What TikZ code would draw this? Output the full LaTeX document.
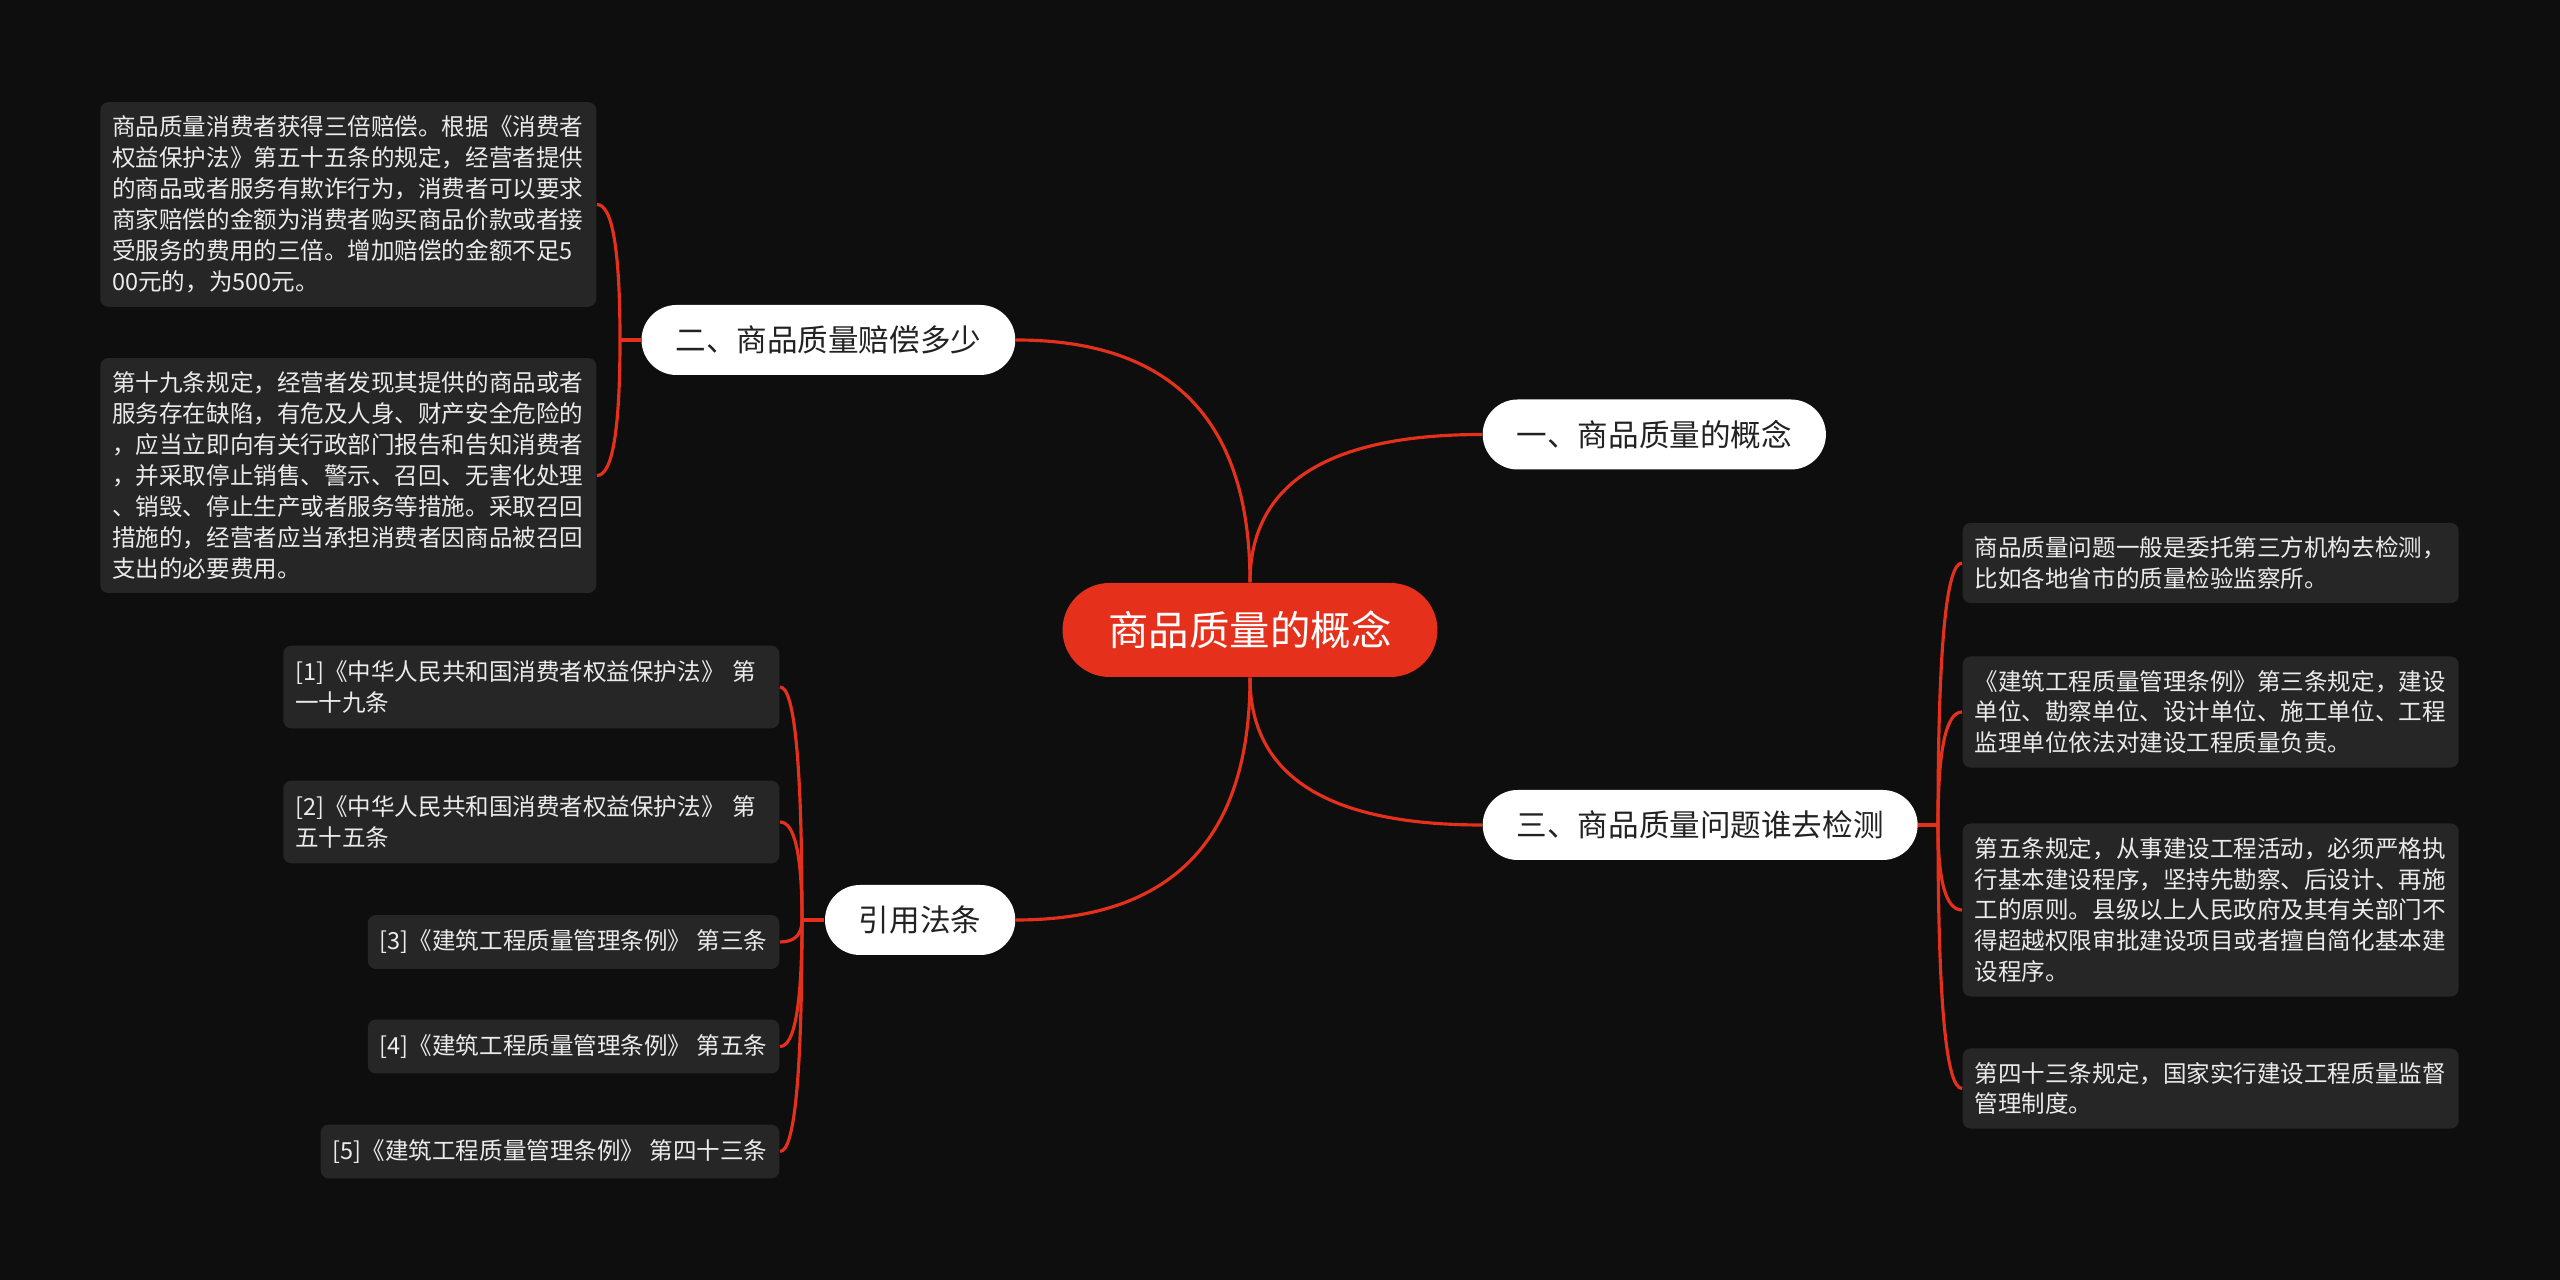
\documentclass[tikz,border=0pt]{standalone}
\usepackage{fontspec}
\setmainfont{Noto Sans CJK SC}
\usepackage{tikz}
\usetikzlibrary{calc}
\definecolor{bgdark}{HTML}{0E0E0E}
\definecolor{leafgray}{HTML}{262626}
\definecolor{mapred}{HTML}{E5301B}
\definecolor{pilltext}{HTML}{222222}
\tikzset{
  link/.style={draw=mapred,line width=0.9pt},
  elbow/.style={to path={.. controls ($(\tikztostart)!0.667!(\tikztostart|-\tikztotarget)$) and ($(\tikztotarget)!0.667!(\tikztostart|-\tikztotarget)$) .. (\tikztotarget)}},
  rootnode/.style={fill=mapred,text=white,rounded corners=0.47cm,minimum height=0.94cm,inner xsep=0.46cm,font=\fontsize{11.5}{13}\selectfont},
  secnode/.style={fill=white,text=pilltext,rounded corners=0.35cm,minimum height=0.70cm,inner xsep=0.34cm,font=\fontsize{8.7}{10}\selectfont},
  leafnode/.style={fill=leafgray,text=white!92!black,rounded corners=0.08cm,inner xsep=0.12cm,inner ysep=0.137cm,align=left,font=\fontsize{6.7}{8.8}\selectfont},
}

\begin{document}
\begin{tikzpicture}
\fill[bgdark] (0,0) rectangle (25.6,-12.8);
\useasboundingbox (0,0) rectangle (25.6,-12.8);
% centre and main branches
\node[rootnode] (root) at (12.5,-6.3) {商品质量的概念};
\node[secnode,anchor=east] (sec2) at (10.16,-3.40) {二、商品质量赔偿多少};
\node[secnode,anchor=west] (sec1) at (14.82,-4.345) {一、商品质量的概念};
\node[secnode,anchor=west] (sec3) at (14.82,-8.25) {三、商品质量问题谁去检测};
\node[secnode,anchor=east] (refs) at (10.16,-9.20) {引用法条};
\path [draw,link] (root.north) edge[elbow] (sec2.east);
\path [draw,link] (root.north) edge[elbow] (sec1.west);
\path [draw,link] (root.south) edge[elbow] (sec3.west);
\path [draw,link] (root.south) edge[elbow] (refs.east);
% left: compensation
\node[leafnode,anchor=east,text width=4.72cm] (sec2a) at (5.97,-2.045) {商品质量消费者获得三倍赔偿。根据《消费者\\权益保护法》第五十五条的规定，经营者提供\\的商品或者服务有欺诈行为，消费者可以要求\\商家赔偿的金额为消费者购买商品价款或者接\\受服务的费用的三倍。增加赔偿的金额不足5\\00元的，为500元。};
\node[leafnode,anchor=east,text width=4.72cm] (sec2b) at (5.97,-4.755) {第十九条规定，经营者发现其提供的商品或者\\服务存在缺陷，有危及人身、财产安全危险的\\，应当立即向有关行政部门报告和告知消费者\\，并采取停止销售、警示、召回、无害化处理\\、销毁、停止生产或者服务等措施。采取召回\\措施的，经营者应当承担消费者因商品被召回\\支出的必要费用。};
\coordinate (j2) at (6.20,-3.40);
\path [draw,link] (sec2.west) edge (j2);
\path [draw,link] (j2) edge[elbow] (sec2a.east);
\path [draw,link] (j2) edge[elbow] (sec2b.east);
% left: cited articles
\node[leafnode,anchor=east,text width=4.72cm,inner ysep=0.15cm] (ref1) at (7.80,-6.87) {[1]《中华人民共和国消费者权益保护法》 第\\一十九条};
\node[leafnode,anchor=east,text width=4.72cm,inner ysep=0.15cm] (ref2) at (7.80,-8.22) {[2]《中华人民共和国消费者权益保护法》 第\\五十五条};
\node[leafnode,anchor=east,inner ysep=0.15cm] (ref3) at (7.80,-9.42) {[3]《建筑工程质量管理条例》 第三条};
\node[leafnode,anchor=east,inner ysep=0.15cm] (ref4) at (7.80,-10.465) {[4]《建筑工程质量管理条例》 第五条};
\node[leafnode,anchor=east,inner ysep=0.15cm] (ref5) at (7.80,-11.515) {[5]《建筑工程质量管理条例》 第四十三条};
\coordinate (j4) at (8.02,-9.20);
\path [draw,link] (refs.west) edge (j4);
\foreach \r in {ref1,ref2,ref3,ref4,ref5}
  \path [draw,link] (j4) edge[elbow] (\r.east);
% right: who tests
\node[leafnode,anchor=west,text width=4.72cm] (sec3a) at (19.62,-5.63) {商品质量问题一般是委托第三方机构去检测，\\比如各地省市的质量检验监察所。};
\node[leafnode,anchor=west,text width=4.72cm] (sec3b) at (19.62,-7.12) {《建筑工程质量管理条例》第三条规定，建设\\单位、勘察单位、设计单位、施工单位、工程\\监理单位依法对建设工程质量负责。};
\node[leafnode,anchor=west,text width=4.72cm] (sec3c) at (19.62,-9.10) {第五条规定，从事建设工程活动，必须严格执\\行基本建设程序，坚持先勘察、后设计、再施\\工的原则。县级以上人民政府及其有关部门不\\得超越权限审批建设项目或者擅自简化基本建\\设程序。};
\node[leafnode,anchor=west,text width=4.72cm] (sec3d) at (19.62,-10.885) {第四十三条规定，国家实行建设工程质量监督\\管理制度。};
\coordinate (j3) at (19.38,-8.25);
\path [draw,link] (sec3.east) edge (j3);
\foreach \r in {sec3a,sec3b,sec3c,sec3d}
  \path [draw,link] (j3) edge[elbow] (\r.west);
\end{tikzpicture}
\end{document}
